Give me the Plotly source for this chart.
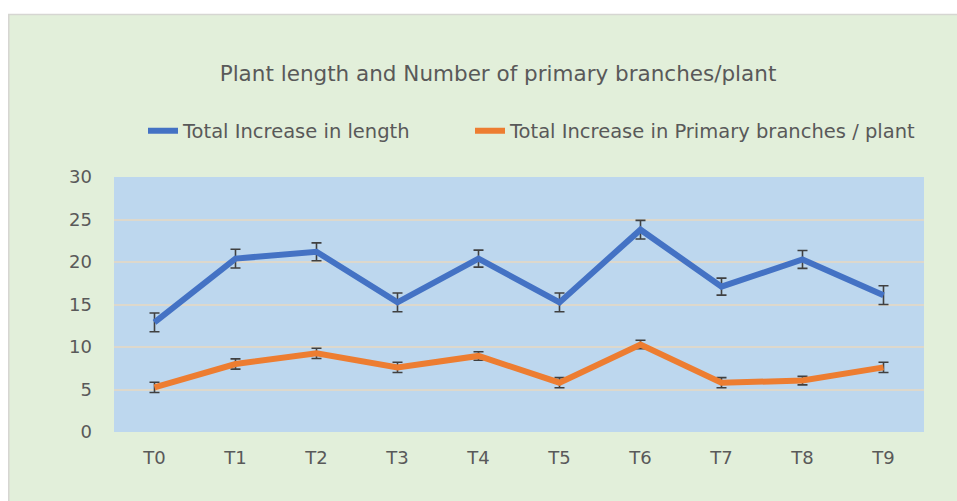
import plotly.graph_objects as go

categories = ["T0", "T1", "T2", "T3", "T4", "T5", "T6", "T7", "T8", "T9"]
length_vals = [12.9, 20.4, 21.2, 15.25, 20.4, 15.25, 23.8, 17.1, 20.3, 16.1]
length_err = [1.1, 1.1, 1.05, 1.1, 1.0, 1.1, 1.1, 1.0, 1.05, 1.1]
branch_vals = [5.25, 8.0, 9.25, 7.6, 8.95, 5.8, 10.3, 5.8, 6.05, 7.6]
branch_err = [0.6, 0.6, 0.6, 0.6, 0.5, 0.6, 0.5, 0.6, 0.5, 0.6]
y_ticks = [0, 5, 10, 15, 20, 25, 30]

FONT = "DejaVu Sans"
TXT = "#595959"
W, H = 957, 501
ML, MR, MT, MB = 114, 33, 177, 69
PW, PH = W - ML - MR, H - MT - MB


def px_x(px):
    return (px - ML) / PW


def px_y(py):
    return (H - MB - py) / PH


fig = go.Figure()
fig.add_trace(go.Scatter(
    x=categories, y=length_vals, mode="lines", name="Total Increase in length",
    line=dict(color="#4472C4", width=6), legend="legend",
    error_y=dict(type="data", array=length_err, visible=True, color="#404040", thickness=1.6, width=5),
))
fig.add_trace(go.Scatter(
    x=categories, y=branch_vals, mode="lines", name="Total Increase in Primary branches / plant",
    line=dict(color="#ED7D31", width=6), legend="legend2",
    error_y=dict(type="data", array=branch_err, visible=True, color="#404040", thickness=1.6, width=5),
))

# white strips above and left of the chart area, with its thin border
fig.add_shape(type="rect", xref="paper", yref="paper", layer="below",
              x0=px_x(-10), x1=px_x(W + 10), y0=px_y(14), y1=px_y(-10),
              fillcolor="white", line=dict(width=0))
fig.add_shape(type="rect", xref="paper", yref="paper", layer="below",
              x0=px_x(-10), x1=px_x(8), y0=px_y(H + 10), y1=px_y(-10),
              fillcolor="white", line=dict(width=0))
fig.add_shape(type="line", xref="paper", yref="paper", layer="below",
              x0=px_x(8), x1=px_x(W + 10), y0=px_y(14.5), y1=px_y(14.5),
              line=dict(color="#D6D6D2", width=1.5))
fig.add_shape(type="line", xref="paper", yref="paper", layer="below",
              x0=px_x(8.75), x1=px_x(8.75), y0=px_y(14.5), y1=px_y(H + 10),
              line=dict(color="#D6D6D2", width=1.5))

legend_common = dict(orientation="h", xanchor="left", yanchor="middle",
                     font=dict(family=FONT, size=19.5, color=TXT),
                     bgcolor="rgba(0,0,0,0)", borderwidth=0)

fig.update_layout(
    width=W, height=H,
    margin=dict(l=ML, r=MR, t=MT, b=MB),
    paper_bgcolor="#E2EFDA",
    plot_bgcolor="#BDD7EE",
    font=dict(family=FONT, color=TXT, size=18),
    title=dict(text="Plant length and Number of primary branches/plant",
               x=498 / W, xanchor="center", y=1 - 73 / H, yanchor="middle",
               font=dict(family=FONT, size=21.5, color=TXT)),
    legend=dict(x=px_x(143), y=px_y(131), **legend_common),
    legend2=dict(x=px_x(470), y=px_y(131), **legend_common),
    showlegend=True,
)
fig.update_xaxes(type="category", range=[-0.5, 9.5], showgrid=False, zeroline=False,
                 showline=False, ticks="", ticklabelstandoff=13,
                 tickfont=dict(family=FONT, size=18, color=TXT))
fig.update_yaxes(range=[0, 30], tickvals=y_ticks, showgrid=True, gridcolor="#DDD8CC",
                 gridwidth=1.5, zeroline=False, showline=False, ticks="",
                 ticklabelstandoff=21, tickfont=dict(family=FONT, size=18, color=TXT))

fig.write_html(
    "out.html",
    config={"displayModeBar": False},
    post_script="document.body.style.margin='0';document.body.style.overflow='hidden';",
)
